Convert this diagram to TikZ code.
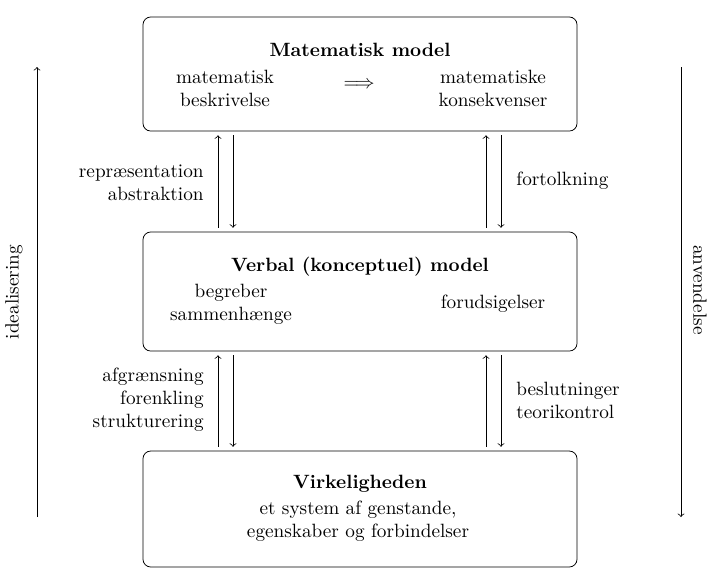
\documentclass[tikz,border=0pt]{standalone}
\begin{document}
\begin{tikzpicture}[x=0.52pt,y=-0.52pt,
  box/.style={draw,rounded corners=4pt,minimum width=225.7pt,inner sep=0pt},
  txt/.style={align=center,inner sep=0pt},
  conn/.style={->,shorten >=2pt,shorten <=2pt}]
\useasboundingbox (0,0) rectangle (711,575);
% boxes
\node[box,minimum height=59.3pt] (top) at (360,74) {};
\node[box,minimum height=61.9pt] (mid) at (360,291.5) {};
\node[box,minimum height=60.3pt] (bot) at (360,509) {};
% top texts
\node[txt] (tt) at (360,50) {\textbf{Matematisk model}};
\node[txt] (tl) at (225,88.5) {matematisk\\beskrivelse};
\node[txt] (ti) at (359,85) {$\Longrightarrow$};
\node[txt] (tr) at (493,88.5) {matematiske\\konsekvenser};
% mid texts
\node[txt] (mt) at (360,267) {\textbf{Verbal (konceptuel) model}};
\node[txt] (ml) at (231,304.5) {begreber\\sammenhænge};
\node[txt] (mr) at (493,304) {forudsigelser};
% bottom texts
\node[txt] (bt) at (360,484) {\textbf{Virkeligheden}};
\node[txt] (bl) at (358,521) {et system af genstande,\\egenskaber og forbindelser};
% inner arrows
\draw[conn] (218,0 |- mid.north) -- (218,0 |- top.south);
\draw[conn] (233,0 |- top.south) -- (233,0 |- mid.north);
\draw[conn] (486,0 |- mid.north) -- (486,0 |- top.south);
\draw[conn] (501,0 |- top.south) -- (501,0 |- mid.north);
\draw[conn] (218,0 |- bot.north) -- (218,0 |- mid.south);
\draw[conn] (233,0 |- mid.south) -- (233,0 |- bot.north);
\draw[conn] (486,0 |- bot.north) -- (486,0 |- mid.south);
\draw[conn] (501,0 |- mid.south) -- (501,0 |- bot.north);
% arrow labels
\node[txt,anchor=east,align=right] (l1) at (204,182.5) {repræsentation\\abstraktion};
\node[txt,anchor=west,align=left] (r1) at (516,181) {fortolkning};
\node[txt,anchor=east,align=right] (l2) at (204,400) {afgrænsning\\forenkling\\strukturering};
\node[txt,anchor=west,align=left] (r2) at (516,400.5) {beslutninger\\teorikontrol};
% side arrows
\coordinate (ia) at (37,517);
\coordinate (ib) at (37,67);
\coordinate (aa) at (681,67);
\coordinate (ab) at (681,517);
\draw[->] (ia) -- (ib);
\draw[->] (aa) -- (ab);
\node[txt,rotate=90] (il) at (14,292) {idealisering};
\node[txt,rotate=-90] (al) at (700,290) {anvendelse};
\end{tikzpicture}
\end{document}
